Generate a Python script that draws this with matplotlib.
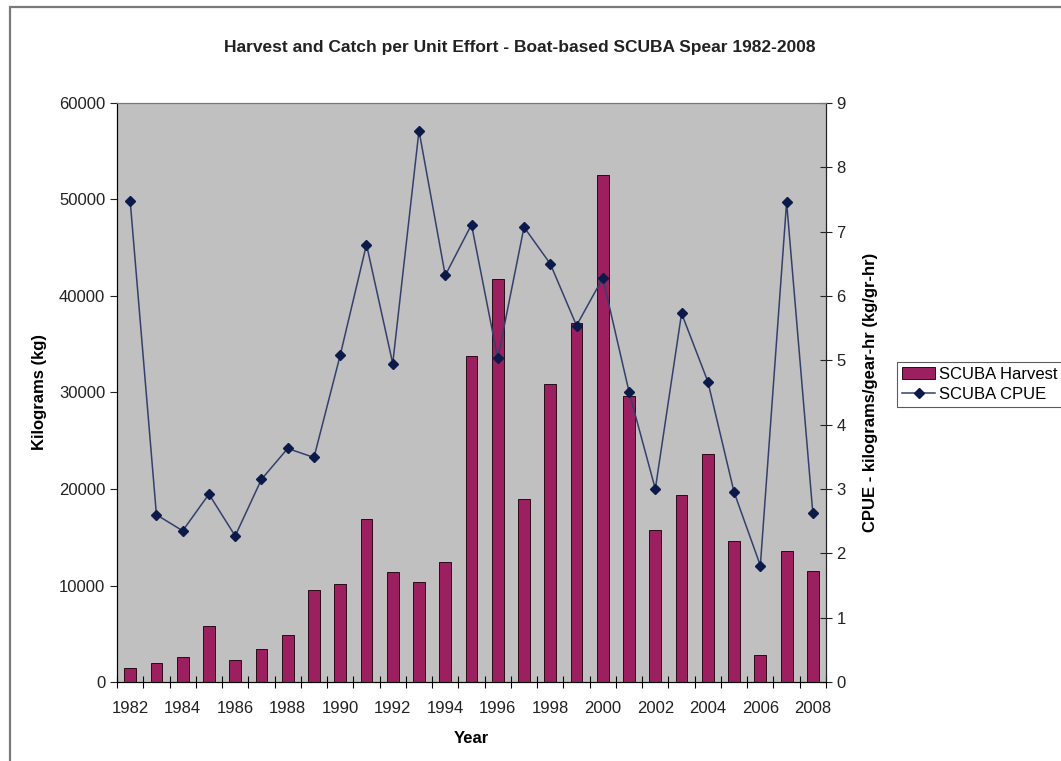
import matplotlib.pyplot as plt
import matplotlib.patches as patches
import numpy as np

plt.rcParams['font.family'] = ['Liberation Sans', 'DejaVu Sans']

years = list(range(1982, 2009))
harvest_kg = [1500, 2000, 2600, 5800, 2300, 3400, 4900, 9500, 10150, 16900,
              11450, 10400, 12450, 33800, 41800, 19000, 30900, 37200, 52500, 29600,
              15700, 19400, 23600, 14600, 2750, 13600, 11500]
cpue = [7.48, 2.60, 2.35, 2.92, 2.27, 3.15, 3.63, 3.49, 5.08, 6.80,
        4.95, 8.57, 6.32, 7.11, 5.03, 7.07, 6.50, 5.54, 6.28, 4.51,
        3.00, 5.73, 4.67, 2.95, 1.81, 7.46, 2.62]
year_labels = [str(y) if y % 2 == 0 else '' for y in years]

fig = plt.figure(figsize=(10.61, 7.61), dpi=100)
fig.patch.set_facecolor('white')

# chart frame
fig.patches.append(patches.Rectangle((10 / 1061, -0.01), 1.1, 1 - 7 / 761 + 0.01,
                                     transform=fig.transFigure, fill=False,
                                     edgecolor='#7a7a7a', lw=1.6))

ax = fig.add_axes([0.1103, 0.1038, 0.6682, 0.7609])
ax.set_facecolor('#c0c0c0')
x = np.arange(len(years))

bars = ax.bar(x, harvest_kg, width=0.45, color='#9c1f5f', edgecolor='#2a0a18',
              linewidth=0.7, label='SCUBA Harvest', zorder=2)
ax.set_xlim(-0.5, len(years) - 0.5)
ax.set_ylim(0, 60000)
ax.set_yticks(np.arange(0, 60001, 10000))
ax.tick_params(axis='y', direction='out', length=5, labelsize=12, colors='#222222')

# tick marks between categories, labels under the bars
ax.set_xticks(np.arange(-0.5, len(years), 1.0))
ax.set_xticklabels([])
ax.set_xticks(x, minor=True)
ax.set_xticklabels(year_labels, minor=True, fontsize=12, color='#222222')
ax.tick_params(axis='x', which='major', direction='inout', length=8)
ax.tick_params(axis='x', which='minor', length=0, pad=14)

ax.spines['top'].set_color('#777777')
for s in ['left', 'bottom', 'right']:
    ax.spines[s].set_color('#222222')

ax2 = ax.twinx()
line, = ax2.plot(x, cpue, color='#34406c', lw=1.1, marker='D', markersize=5.5,
                 markerfacecolor='#0c1a4a', markeredgecolor='#0c1a4a',
                 label='SCUBA CPUE', zorder=3)
ax2.set_ylim(0, 9)
ax2.set_yticks(range(0, 10))
ax2.tick_params(axis='y', direction='inout', length=8, labelsize=12, colors='#222222')
ax2.spines['right'].set_color('#222222')
ax2.spines['top'].set_color('#777777')

ax.set_xlabel('Year', fontsize=12, fontweight='bold')
ax.set_ylabel('Kilograms (kg)', fontsize=12, fontweight='bold')
ax2.set_ylabel('CPUE - kilograms/gear-hr (kg/gr-hr)', fontsize=12, fontweight='bold')
ax.xaxis.set_label_coords(0.5, -0.085)
ax.yaxis.set_label_coords(-0.099, 0.5)
ax2.yaxis.set_label_coords(1.052, 0.5)

fig.text(0.490, 0.937, 'Harvest and Catch per Unit Effort - Boat-based SCUBA Spear 1982-2008',
         ha='center', va='center', fontsize=12.5, fontweight='bold', color='#222222')

leg = fig.legend([bars, line], ['SCUBA Harvest', 'SCUBA CPUE'],
                 loc='upper left', bbox_to_anchor=(897 / 1061, 1 - 362 / 761),
                 fontsize=12, frameon=True, fancybox=False, handlelength=2.0,
                 handletextpad=0.2, borderpad=0.3, labelspacing=0.3,
                 borderaxespad=0)
leg.get_frame().set_edgecolor('#333333')
leg.get_frame().set_linewidth(0.8)

fig.savefig('out.png', dpi=100)
